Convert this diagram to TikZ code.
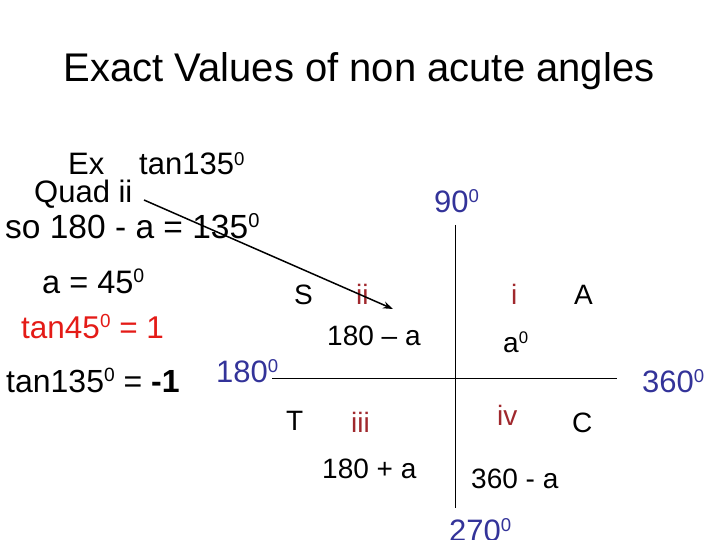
\documentclass[tikz,border=0pt]{standalone}
\usepackage{fontspec}
\setmainfont{Liberation Sans}
\usepackage{graphicx}
\usetikzlibrary{arrows.meta}
\definecolor{qred}{HTML}{A0282D}
\definecolor{brightred}{HTML}{E41B17}
\definecolor{navy}{HTML}{333399}
\newcommand\dg{\raisebox{.32em}{\scalebox{.6}{0}}}
\tikzset{
  txt/.style={anchor=base west, inner sep=0pt, font=\fontsize{31}{37}\selectfont},
  bigtxt/.style={anchor=base west, inner sep=0pt, font=\fontsize{32.5}{38}\selectfont},
  mid/.style={anchor=base west, inner sep=0pt, font=\fontsize{28}{34}\selectfont},
  quad/.style={mid, text=qred},
  ang/.style={txt, text=navy},
  ax/.style={line width=1pt, draw=black},
}
\begin{document}
\begin{tikzpicture}[x=1pt,y=-1pt]
\useasboundingbox (0,0) rectangle (720,540);
\clip (0,0) rectangle (720,540);
% title
\node[anchor=base, inner sep=0pt, font=\fontsize{40}{48}\selectfont] (title) at (359,82) {Exact Values of non acute angles};
% left working
\node[txt] (ex) at (68,175) {Ex};
\node[txt] (tan) at (139,175) {tan135\dg};
\node[txt] (quad) at (34,203) {Quad ii};
\node[bigtxt, font=\fontsize{33.5}{40}\selectfont] (so) at (5,238) {so 180 - a = 135\dg};
\node[bigtxt] (a45) at (42,293) {a = 45\dg};
\node[txt, font=\fontsize{31.5}{37}\selectfont, text=brightred] (t45) at (21,338) {tan45\dg{} = 1};
\node[txt, font=\fontsize{32}{38}\selectfont] (t135) at (6,392) {tan135\dg{} = \textbf{-1}};
% angle labels
\node[ang] (n90) at (434,212) {90\dg};
\node[ang] (n180) at (216,382) {180\dg};
\node[ang] (n360) at (642,392) {360\dg};
\node[ang] (n270) at (449,541) {270\dg};
% quadrant letters
\node[mid] (S) at (294,304) {S};
\node[mid] (A) at (574,304) {A};
\node[mid] (T) at (286,430) {T};
\node[mid] (C) at (572,432) {C};
% quadrant numerals
\node[quad] (q2) at (356,304) {ii};
\node[quad] (q1) at (511,304) {i};
\node[quad] (q3) at (351,432) {iii};
\node[quad] (q4) at (497,425) {iv};
% expressions
\node[mid] (e2) at (327,345) {180 – a};
\node[mid] (e1) at (503,352) {a\dg};
\node[mid] (e3) at (322,478) {180 + a};
\node[mid] (e4) at (471,488) {360 - a};
% axes
\coordinate (vt) at (455,225);
\coordinate (vb) at (455,508);
\coordinate (hl) at (272,378);
\coordinate (hr) at (617,378);
\draw[ax] (vt) -- (vb);
\draw[ax] (hl) -- (hr);
% arrow
\coordinate (as) at (144,200);
\coordinate (ae) at (393,309);
\draw[line width=1.5pt, -{Stealth[length=10pt,width=7pt]}] (as) -- (ae);
\end{tikzpicture}
\end{document}
